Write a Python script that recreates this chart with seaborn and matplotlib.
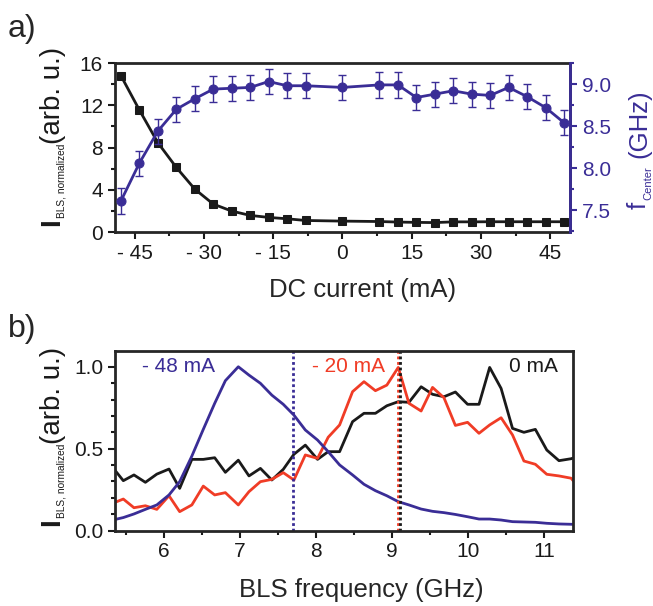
import numpy as np
import pandas as pd
import matplotlib
matplotlib.use("Agg")
import matplotlib.pyplot as plt
import seaborn as sns
from matplotlib.ticker import MultipleLocator, FormatStrFormatter

sns.set_style("ticks")
plt.rcParams['font.family'] = ['Liberation Sans', 'DejaVu Sans']
plt.rcParams['mathtext.fontset'] = 'custom'
plt.rcParams['mathtext.rm'] = 'Liberation Sans'
plt.rcParams['mathtext.it'] = 'Liberation Sans'
plt.rcParams['mathtext.bf'] = 'Liberation Sans:bold'

# ---------------- data: panel a ----------------
current_mA = [-48, -44, -40, -36, -32, -28, -24, -20, -16, -12, -8, 0,
              8, 12, 16, 20, 24, 28, 32, 36, 40, 44, 48]
intensity = [14.8, 11.55, 8.46, 6.12, 4.07, 2.65, 1.99, 1.58, 1.39, 1.26, 1.1, 1.04,
             1.0, 0.95, 0.92, 0.9, 0.97, 0.97, 0.98, 0.98, 0.98, 0.98, 0.98]
f_center = [7.61, 8.06, 8.44, 8.70, 8.825, 8.94, 8.95, 8.96, 9.03, 8.98, 8.98, 8.96,
            8.99, 8.99, 8.84, 8.88, 8.92, 8.88, 8.865, 8.96, 8.85, 8.72, 8.54]
f_err = [0.15] * len(current_mA)
xtick_vals_a = [-45, -30, -15, 0, 15, 30, 45]
xtick_labels_a = ['- 45', '- 30', '- 15', '0', '15', '30', '45']

# ---------------- data: panel b ----------------
freq_GHz = [5.33, 5.47, 5.61, 5.76, 5.91, 6.07, 6.21, 6.37, 6.52, 6.67, 6.81, 6.98,
            7.12, 7.27, 7.42, 7.57, 7.71, 7.86, 8.02, 8.16, 8.31, 8.48, 8.63, 8.78,
            8.93, 9.08, 9.22, 9.38, 9.53, 9.68, 9.83, 9.99, 10.14, 10.28, 10.43,
            10.58, 10.73, 10.88, 11.03, 11.19, 11.35, 11.42]
spec_m48 = [0.065, 0.08, 0.102, 0.13, 0.157, 0.218, 0.299, 0.455, 0.618, 0.777, 0.915, 1.0,
            0.949, 0.899, 0.827, 0.771, 0.705, 0.614, 0.553, 0.482, 0.401, 0.34, 0.283, 0.244,
            0.213, 0.177, 0.157, 0.132, 0.118, 0.11, 0.099, 0.085, 0.071, 0.071, 0.065,
            0.055, 0.053, 0.051, 0.045, 0.041, 0.039, 0.038]
spec_m20 = [0.167, 0.193, 0.14, 0.152, 0.13, 0.213, 0.116, 0.157, 0.272, 0.218, 0.232, 0.157,
            0.238, 0.299, 0.313, 0.354, 0.309, 0.462, 0.441, 0.57, 0.645, 0.848, 0.909, 0.854,
            0.888, 0.996, 0.777, 0.73, 0.874, 0.811, 0.642, 0.661, 0.594, 0.645, 0.689,
            0.584, 0.425, 0.405, 0.344, 0.334, 0.32, 0.28]
spec_0 = [0.386, 0.305, 0.34, 0.295, 0.345, 0.376, 0.258, 0.435, 0.435, 0.445, 0.356, 0.43,
          0.334, 0.38, 0.309, 0.374, 0.466, 0.522, 0.435, 0.482, 0.482, 0.665, 0.716, 0.716,
          0.762, 0.787, 0.783, 0.878, 0.832, 0.817, 0.846, 0.771, 0.771, 0.996, 0.868,
          0.624, 0.6, 0.618, 0.492, 0.427, 0.439, 0.45]
center_lines = {'- 48 mA': 7.70, '- 20 mA': 9.07, '0 mA': 9.105}

BLUE = '#3a2d96'
RED = '#f03c26'
BLACK = '#1a1a1a'

W, H = 653, 606
fig = plt.figure(figsize=(W / 100, H / 100), dpi=100)
axA = fig.add_axes([0.176, 0.617, 0.697, 0.279])
axB = fig.add_axes([0.176, 0.1243, 0.701, 0.297])

TICK = 15
LAB = 18.5


def ptext(x, y, s, size, color=BLACK, weight='normal'):
    """Rotated label piece placed by its baseline start, in pixel units."""
    fig.text(x / W, 1 - y / H, s, rotation=90, rotation_mode='anchor',
             ha='left', va='baseline', fontsize=size, color=color, fontweight=weight)


def left_label(y0):
    ptext(59.5, y0 + 226, 'I', 20, weight='bold')
    ptext(64.5, y0 + 218, 'BLS, normalized', 7.3)
    ptext(59.5, y0 + 144, '(arb. u.)', 20)


# ---------------- panel a ----------------
dfa = pd.DataFrame({'I': current_mA, 'intensity': intensity, 'f': f_center, 'err': f_err})
sns.lineplot(data=dfa, x='I', y='intensity', ax=axA, color=BLACK, marker='s',
             markersize=6, markeredgecolor=BLACK, linewidth=2)
axA.set_xlim(-49.3, 49.3)
axA.set_ylim(0, 16)
axA.yaxis.set_major_locator(MultipleLocator(4))
axA.yaxis.set_minor_locator(MultipleLocator(2))
axA.set_xticks(xtick_vals_a)
axA.set_xticklabels(xtick_labels_a)
axA.xaxis.set_minor_locator(MultipleLocator(7.5))
axA.set_xlabel('DC current (mA)', fontsize=LAB)
axA.xaxis.set_label_coords(0.543, -0.27)
axA.set_ylabel('')
left_label(0)

axA2 = axA.twinx()
axA2.errorbar(dfa['I'], dfa['f'], yerr=dfa['err'], fmt='none', ecolor=BLUE,
              elinewidth=1, capsize=3, capthick=1)
sns.lineplot(data=dfa, x='I', y='f', ax=axA2, color=BLUE, marker='o',
             markersize=6.5, markeredgecolor=BLUE, linewidth=2)
axA2.set_ylim(7.24, 9.25)
axA2.yaxis.set_major_locator(MultipleLocator(0.5))
axA2.yaxis.set_minor_locator(MultipleLocator(0.25))
axA2.yaxis.set_major_formatter(FormatStrFormatter('%.1f'))
axA2.set_ylabel('')
axA2.tick_params(axis='y', which='both', colors=BLUE, labelsize=TICK, width=1.5)
axA2.tick_params(axis='y', which='major', length=5)
axA2.tick_params(axis='y', which='minor', length=3)
for s in ['top', 'left', 'bottom']:
    axA2.spines[s].set_visible(False)
axA2.spines['right'].set_color(BLUE)
axA2.spines['right'].set_linewidth(2)
# right label: f_Center (GHz)
ptext(646, 209, 'f', 18.5, color=BLUE)
ptext(651, 200, 'Center', 8, color=BLUE)
ptext(646, 158, '(GHz)', 18.5, color=BLUE)

# ---------------- panel b ----------------
dfb = pd.DataFrame({
    'freq': freq_GHz * 3,
    'val': spec_0 + spec_m20 + spec_m48,
    'curr': ['0 mA'] * len(freq_GHz) + ['- 20 mA'] * len(freq_GHz) + ['- 48 mA'] * len(freq_GHz),
})
palette = {'0 mA': BLACK, '- 20 mA': RED, '- 48 mA': BLUE}
sns.lineplot(data=dfb, x='freq', y='val', hue='curr', palette=palette, ax=axB,
             linewidth=2, legend=False, sort=False)
axB.axvline(center_lines['- 48 mA'], color=BLUE, linestyle=(0, (1, 1)), linewidth=2)
axB.axvline(center_lines['- 20 mA'], color=RED, linestyle=(0, (1, 1)), linewidth=2)
axB.axvline(center_lines['0 mA'], color=BLACK, linestyle=(0, (1, 1)), linewidth=2)
axB.set_xlim(5.36, 11.37)
axB.set_ylim(0, 1.098)
axB.xaxis.set_major_locator(MultipleLocator(1))
axB.xaxis.set_minor_locator(MultipleLocator(0.5))
axB.yaxis.set_major_locator(MultipleLocator(0.5))
axB.yaxis.set_minor_locator(MultipleLocator(0.1))
axB.yaxis.set_major_formatter(FormatStrFormatter('%.1f'))
axB.set_xlabel('BLS frequency (GHz)', fontsize=LAB)
axB.xaxis.set_label_coords(0.539, -0.265)
axB.set_ylabel('')
left_label(300)
axB.text(5.72, 1.0, '- 48 mA', color=BLUE, fontsize=15, ha='left', va='center')
axB.text(8.9, 1.0, '- 20 mA', color=RED, fontsize=15, ha='right', va='center')
axB.text(11.18, 1.0, '0 mA', color=BLACK, fontsize=15, ha='right', va='center')

for ax in (axA, axB):
    for s in ax.spines.values():
        s.set_linewidth(2)
        s.set_visible(True)
    ax.tick_params(axis='both', which='both', direction='out', labelsize=TICK,
                   width=1.5, top=False, right=False, colors=BLACK)
    ax.tick_params(axis='both', which='major', length=5)
    ax.tick_params(axis='both', which='minor', length=3)

fig.text(0.012, 0.952, 'a)', fontsize=23, ha='left', va='center')
fig.text(0.012, 0.457, 'b)', fontsize=23, ha='left', va='center')

fig.savefig('out.png', dpi=100)
